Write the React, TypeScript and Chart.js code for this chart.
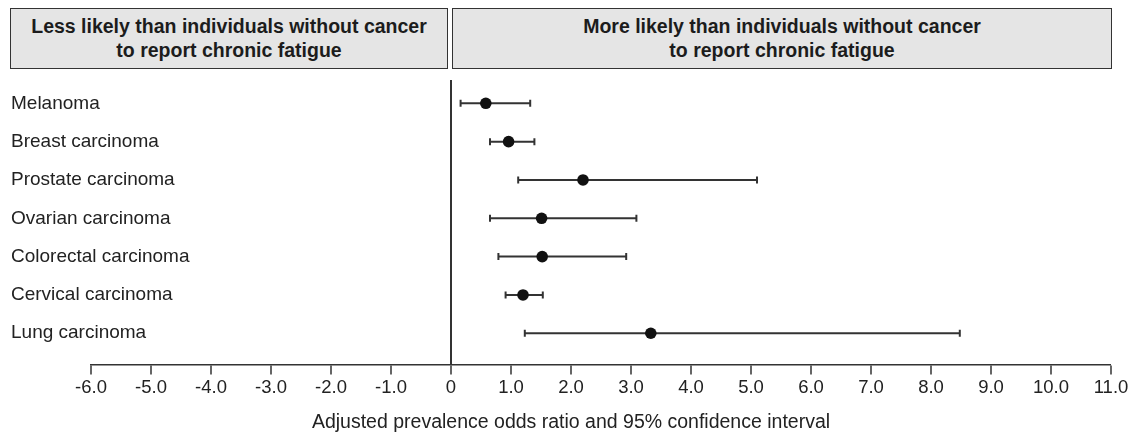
import React, { useEffect, useRef } from "react";
import { Chart, registerables } from "chart.js";

Chart.register(...registerables);

const categories = [
  "Melanoma",
  "Breast carcinoma",
  "Prostate carcinoma",
  "Ovarian carcinoma",
  "Colorectal carcinoma",
  "Cervical carcinoma",
  "Lung carcinoma",
];
const oddsRatio = [0.58, 0.96, 2.2, 1.51, 1.52, 1.2, 3.33];
const ciLow = [0.16, 0.65, 1.12, 0.65, 0.79, 0.91, 1.23];
const ciHigh = [1.32, 1.39, 5.1, 3.09, 2.92, 1.53, 8.48];
const xTickValues = [-6, -5, -4, -3, -2, -1, 0, 1, 2, 3, 4, 5, 6, 7, 8, 9, 10, 11];
const xTickLabels = [
  "-6.0", "-5.0", "-4.0", "-3.0", "-2.0", "-1.0", "0",
  "1.0", "2.0", "3.0", "4.0", "5.0", "6.0", "7.0", "8.0", "9.0", "10.0", "11.0",
];
const xTitle = "Adjusted prevalence odds ratio and 95% confidence interval";
const headerLeft = ["Less likely than individuals without cancer", "to report chronic fatigue"];
const headerRight = ["More likely than individuals without cancer", "to report chronic fatigue"];

const FONT = '"Liberation Sans", Arial, Helvetica, sans-serif';
const INK = "#222222";
const LINE = "#333333";

const boxStyle = (left: number, width: number): React.CSSProperties => ({
  position: "absolute",
  left,
  top: 8,
  width,
  height: 61,
  boxSizing: "border-box",
  background: "#e5e5e5",
  border: "1.5px solid #333",
  display: "flex",
  flexDirection: "column",
  alignItems: "center",
  justifyContent: "center",
  fontFamily: FONT,
  fontWeight: 700,
  fontSize: "19.5px",
  lineHeight: "23.5px",
  color: "#1c1c1c",
  textAlign: "center",
});

export default function App() {
  const canvasRef = useRef<HTMLCanvasElement | null>(null);

  useEffect(() => {
    const canvas = canvasRef.current;
    if (!canvas) return;

    const whiskers = categories.map((_, i) => ({
      type: "line" as const,
      data: [
        { x: ciLow[i], y: i },
        { x: ciHigh[i], y: i },
      ],
      borderColor: LINE,
      borderWidth: 2,
      pointRadius: 0,
      showLine: true,
      order: 2,
    }));

    const caps = {
      type: "scatter" as const,
      data: [
        ...categories.map((_, i) => ({ x: ciLow[i], y: i })),
        ...categories.map((_, i) => ({ x: ciHigh[i], y: i })),
      ],
      pointStyle: "line" as const,
      rotation: 90,
      radius: 3.5,
      borderColor: LINE,
      borderWidth: 2,
      order: 1,
    };

    const points = {
      type: "scatter" as const,
      data: categories.map((_, i) => ({ x: oddsRatio[i], y: i })),
      pointStyle: "circle" as const,
      radius: 5.8,
      backgroundColor: "#111111",
      borderColor: "#111111",
      borderWidth: 0,
      order: 0,
    };

    const chart = new Chart(canvas, {
      type: "scatter",
      data: { datasets: [points, caps, ...whiskers] as any },
      options: {
        animation: false,
        responsive: false,
        devicePixelRatio: 1,
        layout: { padding: { left: 11, right: 10, top: 80, bottom: 1.3 } },
        plugins: {
          legend: { display: false },
          tooltip: { enabled: false },
          title: {
            display: true,
            position: "bottom",
            text: xTitle,
            color: INK,
            font: { family: FONT, size: 19.5, weight: "normal" },
            padding: { top: 9.6, bottom: 0 },
          },
        },
        scales: {
          x: {
            type: "linear",
            min: -6,
            max: 11,
            afterBuildTicks: (scale: any) => {
              scale.ticks = xTickValues.map((v) => ({ value: v }));
            },
            afterFit: (scale: any) => {
              scale.paddingRight = 30;
            },
            ticks: {
              color: INK,
              font: { family: FONT, size: 18.5 },
              padding: 2.5,
              maxRotation: 0,
              autoSkip: false,
              callback: (v: any) => xTickLabels[xTickValues.indexOf(Number(v))],
            },
            grid: {
              drawOnChartArea: true,
              drawTicks: true,
              tickLength: 10,
              tickColor: LINE,
              tickWidth: 1.5,
              color: (ctx: any) => (ctx.tick && ctx.tick.value === 0 ? LINE : "rgba(0,0,0,0)"),
              lineWidth: (ctx: any) => (ctx.tick && ctx.tick.value === 0 ? 2 : 0),
            },
            border: { display: true, color: LINE, width: 1.5 },
          },
          y: {
            type: "linear",
            reverse: true,
            min: -0.608,
            max: 6.815,
            afterBuildTicks: (scale: any) => {
              scale.ticks = categories.map((_, i) => ({ value: i }));
            },
            afterFit: (scale: any) => {
              scale.width = 80;
            },
            ticks: {
              color: INK,
              mirror: true,
              padding: -80,
              autoSkip: false,
              font: { family: FONT, size: 19 },
              callback: (v: any) => categories[Number(v)],
            },
            grid: { display: false },
            border: { display: false },
          },
        },
      },
    });

    return () => chart.destroy();
  }, []);

  return (
    <div style={{ position: "absolute", left: 0, top: 0, width: 1141, height: 436, background: "#fff" }}>
      <canvas ref={canvasRef} width={1141} height={436} style={{ width: 1141, height: 436, display: "block" }} />
      <div style={boxStyle(10, 438)}>
        {headerLeft.map((t) => (
          <div key={t}>{t}</div>
        ))}
      </div>
      <div style={boxStyle(452, 660)}>
        {headerRight.map((t) => (
          <div key={t}>{t}</div>
        ))}
      </div>
    </div>
  );
}
